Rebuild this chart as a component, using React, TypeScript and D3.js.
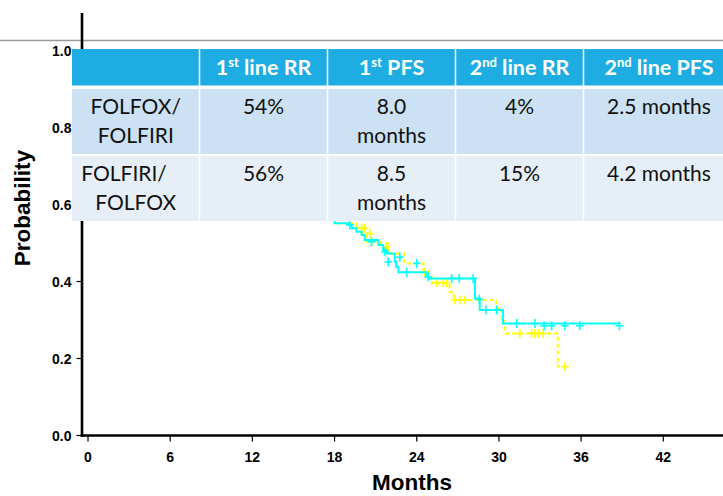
import React from "react";
import * as d3 from "d3";

// ---- Data ----
const xTicks = [0, 6, 12, 18, 24, 30, 36, 42];
const yTicks = [0, 0.2, 0.4, 0.6, 0.8, 1.0];

// Kaplan-Meier steps [month, survival after event]
const cyanSteps: [number, number][] = [
  [0, 1.0], [1.2, 0.985], [2.5, 0.96], [3.8, 0.94], [5.0, 0.91], [6.3, 0.88], [7.5, 0.85],
  [8.6, 0.81], [9.8, 0.77], [11.0, 0.73], [12.3, 0.69], [13.5, 0.66], [14.8, 0.62],
  [16.0, 0.59], [17.2, 0.565], [18.0, 0.551], [19.0, 0.547], [19.25, 0.538], [19.6, 0.529],
  [19.98, 0.521], [20.2, 0.508], [21.2, 0.495], [21.55, 0.482], [21.8, 0.473], [22.4, 0.451],
  [22.5, 0.438], [22.65, 0.424], [24.7, 0.412], [24.85, 0.408], [28.25, 0.356], [28.6, 0.326],
  [30.3, 0.291],
];
const cyanEnd = 38.8;

const yellowSteps: [number, number][] = [
  [0, 1.0], [1.0, 0.98], [2.2, 0.965], [3.5, 0.94], [4.6, 0.92], [5.8, 0.89], [7.0, 0.86],
  [8.3, 0.82], [9.5, 0.78], [10.8, 0.74], [12.0, 0.7], [13.2, 0.67], [14.5, 0.63], [15.7, 0.6],
  [17.0, 0.57], [18.15, 0.551], [19.6, 0.538], [19.98, 0.521], [20.34, 0.503], [21.3, 0.499],
  [21.9, 0.473], [23.1, 0.447], [24.5, 0.43], [24.85, 0.412], [25.1, 0.395], [26.4, 0.373],
  [26.7, 0.352], [29.8, 0.33], [30.2, 0.296], [30.45, 0.265], [34.3, 0.179],
];
const yellowEnd = 34.9;

const cyanCensor: [number, number][] = [
  [19.12, 0.547], [20.7, 0.503], [21.68, 0.477], [21.92, 0.451], [22.77, 0.463], [24.0, 0.447],
  [23.26, 0.424], [24.84, 0.412], [26.55, 0.408], [27.1, 0.408], [28.12, 0.408], [28.56, 0.354],
  [29.05, 0.326], [29.83, 0.326], [31.3, 0.291], [32.63, 0.291], [33.3, 0.285], [33.85, 0.285],
  [34.8, 0.285], [35.9, 0.285], [38.8, 0.285],
];
const yellowCensor: [number, number][] = [
  [19.98, 0.538], [20.2, 0.538], [20.58, 0.525], [20.7, 0.503], [21.8, 0.49], [24.6, 0.425],
  [25.45, 0.397], [25.93, 0.397], [26.18, 0.397], [26.79, 0.352], [27.15, 0.352], [27.52, 0.352],
  [31.53, 0.265], [32.39, 0.265], [32.63, 0.265], [32.87, 0.265], [33.23, 0.265], [34.82, 0.179],
];

// Table
const headerSup: [string, string, string][] = [
  ["1", "st", " line RR"],
  ["1", "st", " PFS"],
  ["2", "nd", " line RR"],
  ["2", "nd", " line PFS"],
];
const regimens = [["FOLFOX/", "FOLFIRI"], ["FOLFIRI/", "FOLFOX"]];
const firstRR = [["54%"], ["56%"]];
const firstPFS = [["8.0", "months"], ["8.5", "months"]];
const secondRR = [["4%"], ["15%"]];
const secondPFS = [["2.5 months"], ["4.2 months"]];

export default function App() {
  const W = 723, H = 496;
  const x = d3.scaleLinear().domain([0, 42]).range([88, 663.3]);
  const y = d3.scaleLinear().domain([0, 1]).range([435.5, 50.5]);

  const line = d3.line<[number, number]>().x(d => x(d[0])).y(d => y(d[1])).curve(d3.curveStepAfter);
  const withEnd = (s: [number, number][], end: number): [number, number][] => [...s, [end, s[s.length - 1][1]]];

  const cross = (pts: [number, number][], color: string, key: string) =>
    pts.map((p, i) => {
      const cx = x(p[0]), cy = y(p[1]);
      return (
        <g key={key + i} stroke={color} strokeWidth={1.6}>
          <line x1={cx - 3.8} x2={cx + 3.8} y1={cy} y2={cy} />
          <line x1={cx} x2={cx} y1={cy - 4.5} y2={cy + 4.5} />
        </g>
      );
    });

  // table geometry
  const colX = [72, 199.5, 327.5, 455.5, 583.5, 740];
  const rowY = [[49, 85.5], [89, 154], [155.8, 221]];
  const rowFill = ["#1EADE3", "#CCE1F3", "#E6EFF8"];
  const gap = 1.5;
  const tableFont = "Lato, 'Open Sans', sans-serif";
  const bodyCols = [firstRR, firstPFS, secondRR, secondPFS];

  return (
    <svg width={W} height={H} style={{ position: "absolute", left: 0, top: 0, background: "#fff" }}
      fontFamily="'Liberation Sans', Arial, sans-serif">
      <rect width={W} height={H} fill="#fff" />
      {/* grey top rule */}
      <line x1={0} x2={W} y1={40.5} y2={40.5} stroke="#9a9a9a" strokeWidth={1.3} />

      {/* curves */}
      <path d={line(withEnd(yellowSteps, yellowEnd)) || ""} fill="none" stroke="#FFFF00" strokeWidth={2} strokeDasharray="4,3" />
      {cross(yellowCensor, "#FFFF00", "yc")}
      <path d={line(withEnd(cyanSteps, cyanEnd)) || ""} fill="none" stroke="#00FFFF" strokeWidth={2} />
      {cross(cyanCensor, "#00FFFF", "cc")}

      {/* axes */}
      <line x1={82} x2={82} y1={13} y2={436.8} stroke="#000" strokeWidth={2.6} />
      <line x1={80.7} x2={W} y1={435.5} y2={435.5} stroke="#000" strokeWidth={2.6} />
      {xTicks.map(t => (
        <g key={"xt" + t}>
          <line x1={x(t)} x2={x(t)} y1={436} y2={441.5} stroke="#000" strokeWidth={1.2} />
          <text x={x(t)} y={461.5} textAnchor="middle" fontSize={14} fontWeight="bold">{t}</text>
        </g>
      ))}
      {yTicks.map(t => (
        <g key={"yt" + t}>
          <line x1={76.5} x2={82} y1={y(t)} y2={y(t)} stroke="#000" strokeWidth={1.2} />
          <text x={71.5} y={y(t) + 5} textAnchor="end" fontSize={14} fontWeight="bold">{d3.format(".1f")(t)}</text>
        </g>
      ))}
      <text x={412} y={490} textAnchor="middle" fontSize={22.5} fontWeight="bold">Months</text>
      <text transform="translate(29.5,208) rotate(-90)" textAnchor="middle" fontSize={22.5} fontWeight="bold">Probability</text>

      {/* table */}
      <rect x={colX[0]} y={rowY[0][0]} width={W - colX[0]} height={rowY[2][1] - rowY[0][0]} fill="#fff" />
      {rowY.map((r, ri) =>
        colX.slice(0, 5).map((cx, ci) => (
          <rect key={`c${ri}-${ci}`} x={cx + (ci === 0 ? 0 : gap / 2)} y={r[0]}
            width={colX[ci + 1] - cx - (ci === 0 ? gap / 2 : gap)} height={r[1] - r[0]} fill={rowFill[ri]} />
        ))
      )}
      <g fontFamily={tableFont}>
        {headerSup.map((h, i) => {
          const cx = i === 3 ? 659 : (colX[i + 1] + colX[i + 2]) / 2;
          return (
            <text key={"h" + i} x={cx} y={75} textAnchor="middle" fill="#fff" fontWeight="bold" fontSize={21.5}>
              {h[0]}<tspan fontSize={13} dy={-8}>{h[1]}</tspan><tspan dy={8}>{h[2]}</tspan>
            </text>
          );
        })}
        {regimens.map((lines, ri) => {
          const base = ri === 0 ? 114.3 : 180.5;
          const cx = (colX[0] + colX[1]) / 2;
          return lines.map((l, li) => (
            <text key={`r${ri}${li}`} x={ri === 1 && li === 0 ? 124 : cx} y={base + li * 29}
              textAnchor="middle" fontSize={21} fill="#111">{l}</text>
          ));
        })}
        {bodyCols.map((col, ci) =>
          col.map((lines, ri) => {
            const base = ri === 0 ? 114.3 : 180.5;
            const cx = (colX[ci + 1] + colX[ci + 2]) / 2;
            return lines.map((l, li) => (
              <text key={`b${ci}${ri}${li}`} x={ci === 3 ? 659 : cx} y={base + li * 29}
                textAnchor="middle" fontSize={21} fill="#111">{l}</text>
            ));
          })
        )}
      </g>
    </svg>
  );
}
